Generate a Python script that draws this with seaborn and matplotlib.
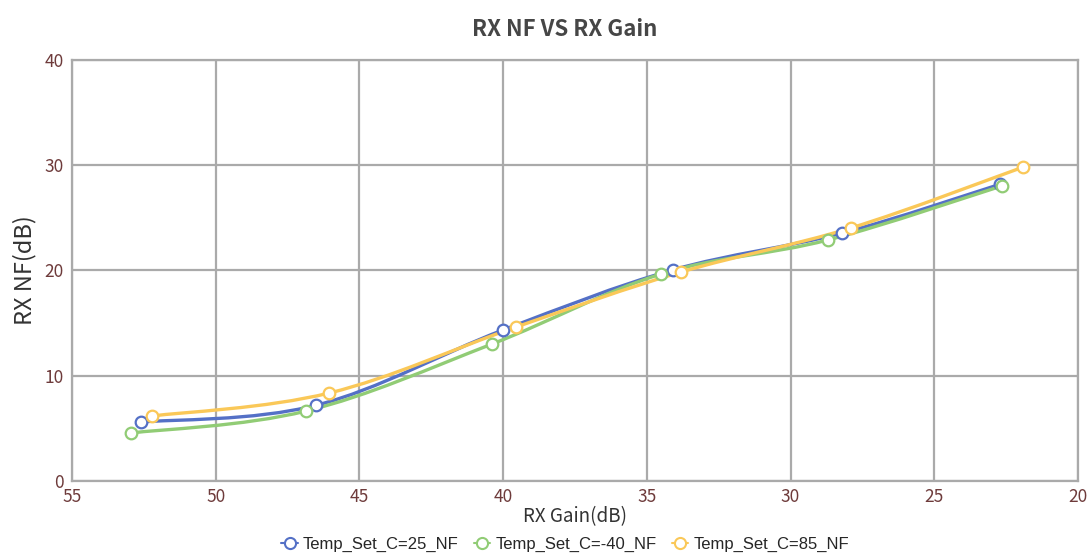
import numpy as np
import pandas as pd
import seaborn as sns
import matplotlib.pyplot as plt
from matplotlib.path import Path
from matplotlib.patches import PathPatch
from matplotlib.lines import Line2D

# Data
series_names = ['Temp_Set_C=25_NF', 'Temp_Set_C=-40_NF', 'Temp_Set_C=85_NF']
gain_25 = [52.6, 46.5, 40.0, 34.1, 28.2, 22.7]
nf_25 = [5.6, 7.2, 14.35, 20.05, 23.56, 28.2]
gain_m40 = [52.95, 46.85, 40.4, 34.5, 28.7, 22.65]
nf_m40 = [4.56, 6.65, 13.0, 19.67, 22.9, 28.03]
gain_85 = [52.2, 46.05, 39.55, 33.8, 27.9, 21.9]
nf_85 = [6.18, 8.36, 14.63, 19.86, 24.04, 29.83]
colors = ['#5470c6', '#91cc75', '#fac858']

df = pd.concat([
    pd.DataFrame({'gain': gain_25, 'nf': nf_25, 'series': series_names[0]}),
    pd.DataFrame({'gain': gain_m40, 'nf': nf_m40, 'series': series_names[1]}),
    pd.DataFrame({'gain': gain_85, 'nf': nf_85, 'series': series_names[2]}),
])

sns.set_style('white')
plt.rcParams['font.family'] = ['Noto Sans CJK SC', 'DejaVu Sans']

fig = plt.figure(figsize=(10.91, 5.53), dpi=100)
ax = fig.add_axes([0.066, 0.1302, 0.922, 0.7613])


def smooth_path(xs, ys, k=0.35):
    # bezier segments through the points (rendering only)
    pts = np.column_stack([xs, ys])
    verts = [pts[0]]
    codes = [Path.MOVETO]
    n = len(pts)
    for i in range(n - 1):
        p0 = pts[i - 1] if i > 0 else pts[i]
        p1 = pts[i]
        p2 = pts[i + 1]
        p3 = pts[i + 2] if i + 2 < n else pts[i + 1]
        c1 = p1 + (p2 - p0) * k / 2
        c2 = p2 - (p3 - p1) * k / 2
        verts += [c1, c2, p2]
        codes += [Path.CURVE4] * 3
    return Path(verts, codes)


for name, color in zip(series_names, colors):
    sub = df[df['series'] == name]
    ax.add_patch(PathPatch(smooth_path(sub['gain'].values, sub['nf'].values),
                           facecolor='none', edgecolor=color, lw=2.4,
                           zorder=3, capstyle='round'))
    sns.scatterplot(data=sub, x='gain', y='nf', ax=ax, s=70,
                    facecolor='white', edgecolor=color, linewidth=1.6,
                    zorder=4, legend=False)

ax.set_xlim(55, 20)
ax.set_ylim(0, 40)
ax.set_xticks([55, 50, 45, 40, 35, 30, 25, 20])
ax.set_yticks([0, 10, 20, 30, 40])
ax.grid(True, color='#aaaaaa', lw=1.6)
for sp in ax.spines.values():
    sp.set_color('#aaaaaa')
    sp.set_linewidth(1.6)
ax.tick_params(axis='both', colors='#aaaaaa', labelcolor='#6e3b3b',
               labelsize=12.5, length=4, width=1.2)
ax.tick_params(axis='y', pad=2)
ax.tick_params(axis='x', pad=1)

ax.set_xlabel('RX Gain(dB)', fontsize=13.5, color='#333333', labelpad=0)
ax.set_ylabel('RX NF(dB)', fontsize=17, color='#333333', labelpad=6)
fig.suptitle('RX NF VS RX Gain', x=0.518, y=0.968, fontsize=16,
             fontweight='bold', color='#464646')

handles = [Line2D([0], [0], color=c, lw=1.5, marker='o', markersize=8,
                  markerfacecolor='white', markeredgecolor=c, markeredgewidth=1.5)
           for c in colors]
fig.legend(handles, series_names, loc='lower center', ncol=3,
           bbox_to_anchor=(0.518, -0.026), frameon=False, handlelength=1.0,
           handletextpad=0.3, columnspacing=0.9,
           prop={'family': 'Liberation Sans', 'size': 12})

fig.savefig('out.png', dpi=100)
